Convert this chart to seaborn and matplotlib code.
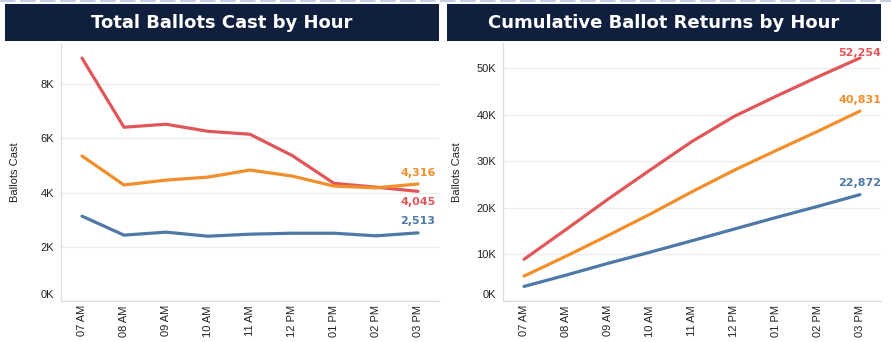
import numpy as np
import pandas as pd
import matplotlib
matplotlib.use("Agg")
import matplotlib.pyplot as plt
import matplotlib.transforms as mtransforms
from matplotlib.patches import Rectangle
from matplotlib.lines import Line2D
from matplotlib.ticker import FuncFormatter, FixedLocator
import seaborn as sns

# Hourly ballot counts per group
hours = ["07 AM", "08 AM", "09 AM", "10 AM", "11 AM", "12 PM", "01 PM", "02 PM", "03 PM"]
group_names = ["Group A", "Group B", "Group C"]
group_a = [8960, 6410, 6520, 6260, 6150, 5370, 4340, 4199, 4045]
group_b = [5350, 4280, 4460, 4570, 4830, 4610, 4240, 4175, 4316]
group_c = [3130, 2430, 2540, 2390, 2465, 2500, 2500, 2404, 2513]
colors = ["#e15759", "#f28e2b", "#4e79a7"]

left_ticks = [0, 2000, 4000, 6000, 8000]
right_ticks = [0, 10000, 20000, 30000, 40000, 50000]

rows = []
for name, vals in zip(group_names, [group_a, group_b, group_c]):
    cum = np.cumsum(vals)
    for h, v, c in zip(hours, vals, cum):
        rows.append({"hour": h, "group": name, "ballots": v, "cumulative": int(c)})
df = pd.DataFrame(rows)

sns.set_theme(style="white")
plt.rcParams["font.family"] = ["Liberation Sans", "DejaVu Sans"]

W, H = 891, 342
fig = plt.figure(figsize=(W / 100, H / 100), dpi=100)
fig.patch.set_facecolor("white")


def px_rect(x0, y0, x1, y1):
    return [x0 / W, 1 - y1 / H, (x1 - x0) / W, (y1 - y0) / H]


# faint dashed strip along the top edge
fig.add_artist(Line2D([0, 1], [1 - 1 / H, 1 - 1 / H], transform=fig.transFigure,
                      color="#c6d1e6", lw=1.6, ls=(0, (7, 2))))

navy = "#0f1f3d"
for (x0, x1), title in [((5, 439), "Total Ballots Cast by Hour"),
                        ((447, 881), "Cumulative Ballot Returns by Hour")]:
    fig.add_artist(Rectangle((x0 / W, 1 - 41 / H), (x1 - x0) / W, 37 / H,
                             transform=fig.transFigure, facecolor=navy,
                             edgecolor="none"))
    fig.text((x0 + x1) / 2 / W, 1 - 22.5 / H, title, color="white",
             fontsize=13, fontweight="bold", family="DejaVu Sans",
             ha="center", va="center")

ax1 = fig.add_axes(px_rect(61, 43, 439, 301))
ax2 = fig.add_axes(px_rect(503, 43, 881, 301))

panels = [
    (ax1, "ballots", (0, 9517), left_ticks,
     {"Group A": -7.7, "Group B": 7.9, "Group C": 8.4}),
    (ax2, "cumulative", (0, 55470), right_ticks,
     {"Group A": 3.6, "Group B": 8.0, "Group C": 8.4}),
]

for ax, col, ylim, yticks, offsets in panels:
    sns.lineplot(data=df, x="hour", y=col, hue="group", hue_order=group_names,
                 palette=colors, legend=False, sort=False, lw=2.3, ax=ax)
    ax.set_xlim(-0.5, len(hours) - 0.5)
    ax.set_ylim(*ylim)
    ax.set_yticks(yticks)
    ax.yaxis.set_major_formatter(FuncFormatter(lambda v, p: f"{int(v / 1000)}K"))
    ax.set_xticks(range(len(hours)))
    ax.set_xticklabels(hours, rotation=90)
    ax.xaxis.set_minor_locator(FixedLocator(np.arange(0.5, len(hours) - 0.5, 1)))
    ax.tick_params(axis="x", which="major", length=0, pad=3, labelsize=8,
                   labelcolor="#222222")
    ax.tick_params(axis="x", which="minor", length=4, width=0.8,
                   color="#e2e2e2", direction="out")
    ax.tick_params(axis="y", length=0, pad=5, labelsize=8, labelcolor="#222222")
    ax.grid(axis="y", color="#ececec", lw=0.9)
    ax.set_axisbelow(True)
    for s in ["top", "right"]:
        ax.spines[s].set_visible(False)
    for s in ["left", "bottom"]:
        ax.spines[s].set_color("#dcdcdc")
        ax.spines[s].set_linewidth(0.9)
    ax.set_xlabel("")
    ax.set_ylabel("Ballots Cast", fontsize=8, color="#222222")
    ax.yaxis.set_label_coords(-0.108, 0.5)

    # lift the zero label so it sits inside the pane
    zero_lbl = ax.yaxis.get_major_ticks()[0].label1
    zero_lbl.set_transform(zero_lbl.get_transform() +
                           mtransforms.ScaledTranslation(0, 7 / 100, fig.dpi_scale_trans))

    # end-of-line value labels
    last = hours[-1]
    for name, color in zip(group_names, colors):
        v = df.loc[(df["group"] == name) & (df["hour"] == last), col].iloc[0]
        ax.annotate(f"{v:,}", xy=(len(hours) - 1, v), xytext=(0, offsets[name]),
                    textcoords="offset points", ha="center", va="center",
                    color=color, fontsize=8, fontweight="bold",
                    family="DejaVu Sans", annotation_clip=False)

fig.savefig("out.png", dpi=100, facecolor="white")
